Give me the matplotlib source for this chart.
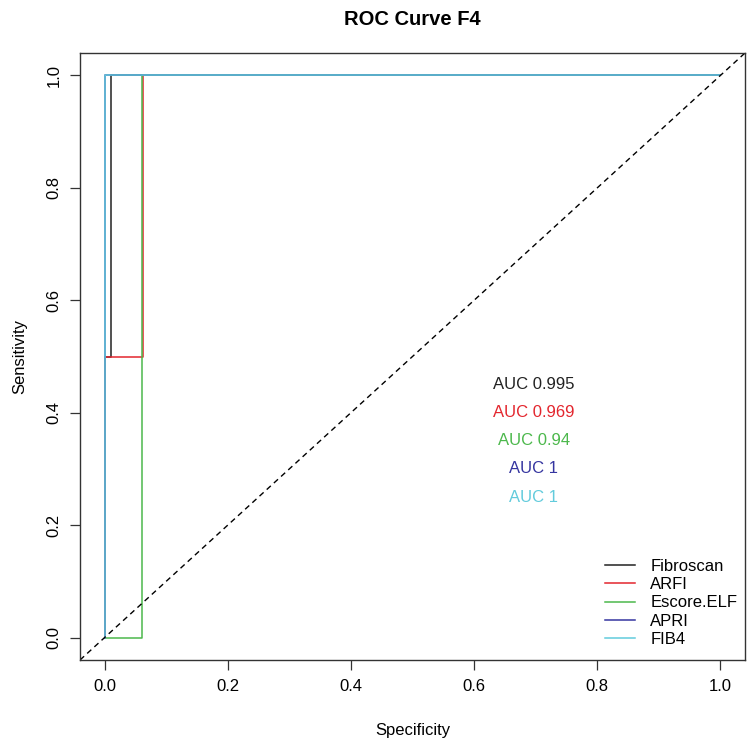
import matplotlib
matplotlib.use("Agg")
from matplotlib import pyplot as plt

plt.rcParams['font.family'] = ['Liberation Sans', 'DejaVu Sans']

# ROC curves, x = 1 - specificity as drawn, y = sensitivity
names = ["Fibroscan", "ARFI", "Escore.ELF", "APRI", "FIB4"]
colors = ["#222222", "#e3262e", "#4cb84c", "#3535a0", "#62cbdc"]
curve_x = [
    [0.0, 0.0, 0.01, 0.01, 1.0],
    [0.0, 0.0, 0.062, 0.062, 1.0],
    [0.0, 0.06, 0.06, 1.0],
    [0.0, 0.0, 1.0],
    [0.0, 0.0, 1.0],
]
curve_y = [
    [0.0, 0.5, 0.5, 1.0, 1.0],
    [0.0, 0.5, 0.5, 1.0, 1.0],
    [0.0, 0.0, 1.0, 1.0],
    [0.0, 1.0, 1.0],
    [0.0, 1.0, 1.0],
]
auc_labels = ["AUC 0.995", "AUC 0.969", "AUC 0.94", "AUC 1", "AUC 1"]
auc_y = [0.45, 0.40, 0.35, 0.30, 0.25]
ticks = [0.0, 0.2, 0.4, 0.6, 0.8, 1.0]

fig = plt.figure(figsize=(7.5, 7.44), dpi=100)
ax = fig.add_axes([80 / 750, 84 / 744, 665 / 750, 607 / 744])

for xs, ys, c, n in zip(curve_x, curve_y, colors, names):
    ax.plot(xs, ys, color=c, lw=1.1, label=n)

ax.plot([-0.04, 1.04], [-0.04, 1.04], color="black", ls=(0, (4, 3)), lw=1)

for lab, yy, c in zip(auc_labels, auc_y, colors):
    ax.text(0.697, yy, lab, color=c, ha="center", va="center", fontsize=12)

ax.set_xlim(-0.04, 1.04)
ax.set_ylim(-0.04, 1.04)
ax.set_xticks(ticks)
ax.set_yticks(ticks)
ax.set_xticklabels([f"{t:.1f}" for t in ticks])
ax.set_yticklabels([f"{t:.1f}" for t in ticks], rotation=90, va="center")
ax.tick_params(direction="out", length=7.5, width=0.9, labelsize=12, pad=6, color="#333333")
for s in ax.spines.values():
    s.set_color("#333333")
    s.set_linewidth(1)

ax.set_xlabel("Specificity", fontsize=12, labelpad=21)
ax.set_ylabel("Sensitivity", fontsize=12, labelpad=14)
ax.set_title("ROC Curve F4", fontsize=14.5, fontweight="bold", pad=20)

ax.legend(loc="lower right", bbox_to_anchor=(1.006, 0.002), frameon=False,
          fontsize=12, handlelength=1.8, handletextpad=0.9, labelspacing=0.2,
          borderaxespad=0.3)

fig.savefig("out.png", dpi=100)
